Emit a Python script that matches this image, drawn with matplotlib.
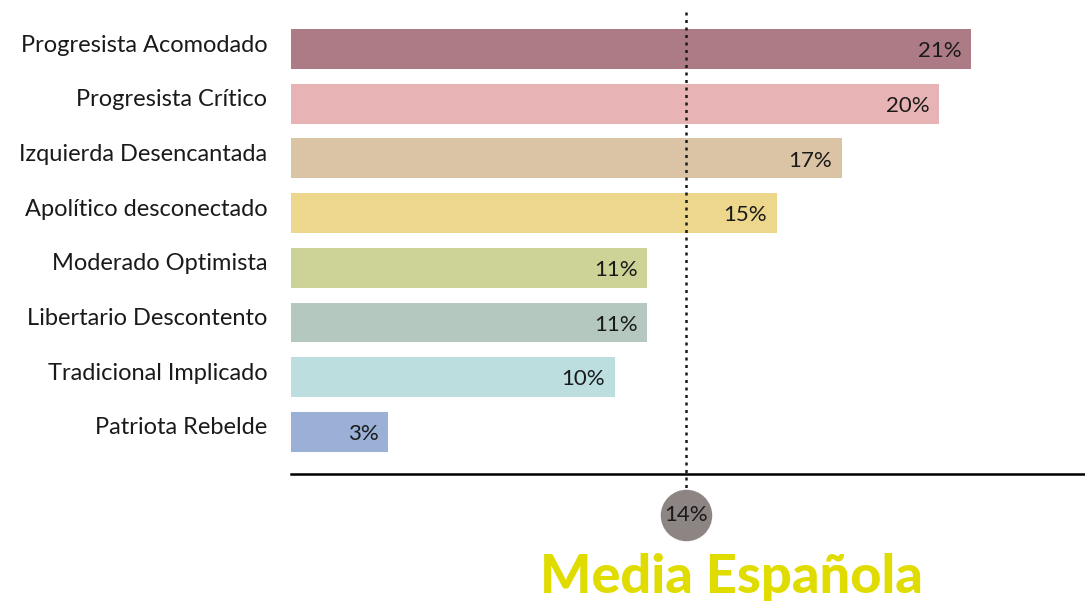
import matplotlib
matplotlib.use("Agg")
from matplotlib import pyplot as plt

categorias = ['Progresista Acomodado', 'Progresista Crítico', 'Izquierda Desencantada',
              'Apolítico desconectado', 'Moderado Optimista', 'Libertario Descontento',
              'Tradicional Implicado', 'Patriota Rebelde']
valores = [21, 20, 17, 15, 11, 11, 10, 3]
colores = ['#AD7B86', '#E8B3B5', '#DBC3A5', '#EDD78D', '#CDD396', '#B4C8C0', '#BCDEDF', '#9BB0D6']
media = 14
media_linea = 12.2  # where the original draws the mean line

plt.rcParams['font.family'] = ['Lato', 'DejaVu Sans']

fig = plt.figure(figsize=(10.85, 6.01), dpi=100)
ax = fig.add_axes([291 / 1085, 127 / 601, 794 / 1085, 474 / 601])

y = list(range(len(categorias)))
ax.barh(y, valores, height=0.73, color=colores)
for yi, v in zip(y, valores):
    ax.text(v - 0.3, yi + 0.04, f'{v}%', ha='right', va='center', fontsize=16, color='#1a1a1a')

ax.set_xlim(0, 794 / 32.4)
ax.set_ylim(7.77, -0.896)
ax.set_yticks(y)
ax.set_yticklabels(categorias, fontsize=17, color='#1a1a1a', va='center')
for lab in ax.get_yticklabels():
    lab.set_y(lab.get_position()[1])
ax.tick_params(axis='y', length=0, pad=17)
for lab in ax.get_yticklabels():
    lab.set_transform(lab.get_transform() + matplotlib.transforms.ScaledTranslation(0, 4 / 100, fig.dpi_scale_trans))
ax.set_xticks([])
for s in ['top', 'right', 'left']:
    ax.spines[s].set_visible(False)
ax.spines['bottom'].set_linewidth(1.8)

# mean line and marker
ax.plot([media_linea, media_linea], [-0.68, 8.06], color='#1a1a1a', linestyle=(0, (1.2, 1.8)),
        linewidth=1.8, clip_on=False, zorder=3)
ax.scatter([media_linea], [8.52], s=1300, color='#8C8584', clip_on=False, zorder=4)
ax.text(media_linea, 8.52, f'{media}%', ha='center', va='center', fontsize=16,
        color='#1a1a1a', zorder=5)

fig.text(731 / 1085, 1 - 578 / 601, 'Media Española', ha='center', va='center',
         fontsize=39, fontweight='black', color='#E0DC00')

fig.savefig('out.png', dpi=100)
